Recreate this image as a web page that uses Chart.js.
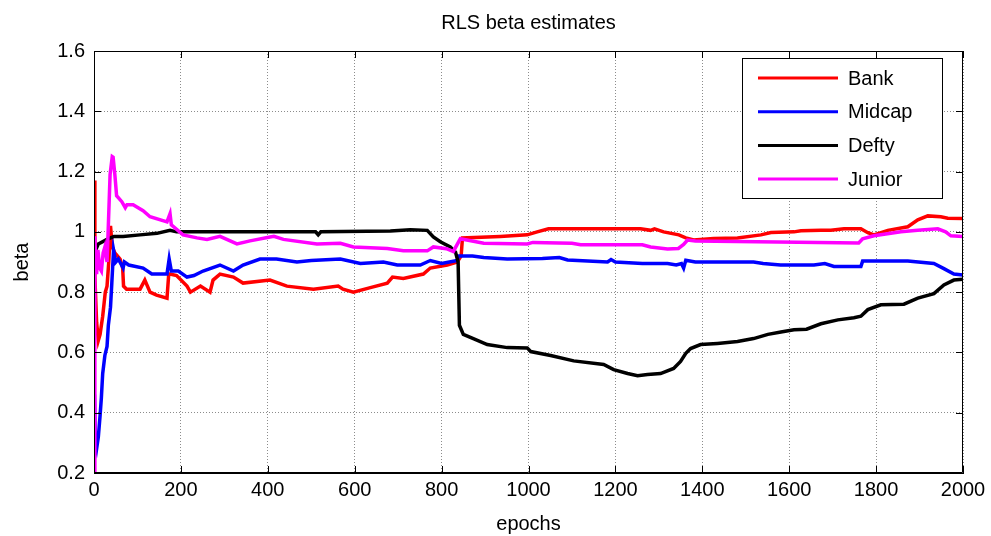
<!DOCTYPE html>
<html>
<head>
<meta charset="utf-8">
<script src="https://cdn.jsdelivr.net/npm/chart.js@4.4.0/dist/chart.umd.min.js"></script>
<style>
  body { margin: 0; background: #fff; }
  canvas { display: block; }
</style>
</head>
<body>
<canvas id="betaChart" width="991" height="536"></canvas>
<script>
const seriesNames = ['Bank', 'Midcap', 'Defty', 'Junior'];
const seriesColors = ['#ff0000', '#0000ff', '#000000', '#ff00ff'];
const xTicks = [0, 200, 400, 600, 800, 1000, 1200, 1400, 1600, 1800, 2000];
const yTicks = [0.2, 0.4, 0.6, 0.8, 1, 1.2, 1.4, 1.6];

// epochs / beta
const bankEpochs = [0, 2, 6, 10, 14, 20, 26, 30, 34, 38, 42, 48, 60, 66, 68, 75, 106, 117, 129, 144, 168, 172, 175, 190, 214, 222, 245, 267, 274, 290, 321, 343, 405, 444, 505, 562, 573, 597, 636, 675, 687, 712, 758, 774, 813, 836, 845, 848, 935, 997, 1020, 1046, 1258, 1281, 1290, 1311, 1346, 1362, 1380, 1426, 1481, 1535, 1558, 1611, 1627, 1673, 1696, 1726, 1765, 1781, 1795, 1827, 1873, 1896, 1919, 1949, 1965, 2000];
const bankBeta = [1.17, 0.85, 0.70, 0.64, 0.66, 0.72, 0.80, 0.82, 0.90, 1.02, 0.95, 0.93, 0.91, 0.88, 0.82, 0.81, 0.81, 0.84, 0.80, 0.79, 0.78, 0.86, 0.86, 0.855, 0.82, 0.80, 0.82, 0.80, 0.84, 0.86, 0.85, 0.83, 0.84, 0.82, 0.81, 0.82, 0.81, 0.80, 0.815, 0.83, 0.85, 0.845, 0.86, 0.88, 0.89, 0.90, 0.92, 0.98, 0.985, 0.99, 1.0, 1.01, 1.01, 1.005, 1.01, 1.0, 0.99, 0.98, 0.973, 0.978, 0.98, 0.99, 0.998, 1.0, 1.004, 1.005, 1.005, 1.01, 1.01, 0.997, 0.99, 1.005, 1.017, 1.04, 1.053, 1.05, 1.045, 1.044];

const midcapEpochs = [1, 3, 6, 10, 14, 17, 20, 25, 30, 33, 38, 41, 45, 50, 56, 67, 70, 80, 113, 133, 168, 173, 178, 194, 214, 230, 251, 290, 321, 343, 382, 420, 467, 500, 567, 613, 666, 698, 751, 774, 800, 836, 839, 871, 897, 951, 1032, 1071, 1090, 1182, 1190, 1200, 1262, 1320, 1340, 1352, 1357, 1362, 1384, 1518, 1540, 1580, 1657, 1682, 1703, 1765, 1769, 1873, 1933, 1956, 1979, 2000];
const midcapBeta = [0.46, 0.30, 0.28, 0.32, 0.39, 0.45, 0.53, 0.59, 0.62, 0.69, 0.75, 0.83, 0.94, 0.90, 0.91, 0.88, 0.90, 0.89, 0.88, 0.86, 0.86, 0.91, 0.87, 0.87, 0.85, 0.855, 0.87, 0.89, 0.87, 0.89, 0.91, 0.91, 0.90, 0.905, 0.91, 0.895, 0.90, 0.89, 0.89, 0.905, 0.895, 0.905, 0.92, 0.92, 0.915, 0.91, 0.912, 0.915, 0.907, 0.90, 0.908, 0.90, 0.895, 0.895, 0.89, 0.895, 0.88, 0.906, 0.90, 0.90, 0.895, 0.89, 0.89, 0.895, 0.885, 0.885, 0.903, 0.903, 0.895, 0.878, 0.86, 0.857];

const deftyEpochs = [1, 10, 30, 46, 67, 106, 145, 175, 190, 510, 516, 522, 682, 728, 767, 781, 797, 820, 832, 838, 841, 850, 873, 905, 951, 997, 1005, 1051, 1104, 1173, 1196, 1228, 1251, 1274, 1304, 1334, 1350, 1362, 1373, 1396, 1435, 1481, 1518, 1551, 1581, 1611, 1640, 1673, 1712, 1749, 1765, 1781, 1811, 1864, 1896, 1933, 1956, 1979, 2000];
const deftyBeta = [0.93, 0.96, 0.975, 0.985, 0.985, 0.99, 0.995, 1.005, 1.0, 1.0, 0.99, 1.0, 1.003, 1.007, 1.005, 0.983, 0.967, 0.95, 0.933, 0.90, 0.69, 0.66, 0.646, 0.626, 0.616, 0.615, 0.603, 0.59, 0.572, 0.56, 0.543, 0.53, 0.523, 0.527, 0.53, 0.547, 0.57, 0.597, 0.613, 0.626, 0.63, 0.636, 0.646, 0.66, 0.668, 0.675, 0.677, 0.695, 0.708, 0.715, 0.72, 0.742, 0.758, 0.76, 0.78, 0.795, 0.824, 0.84, 0.843];

const juniorEpochs = [0, 2, 4, 6, 9, 13, 17, 21, 25, 30, 33, 37, 42, 44, 48, 52, 64, 72, 76, 90, 113, 129, 168, 175, 178, 205, 237, 260, 290, 329, 359, 405, 414, 436, 513, 567, 597, 675, 712, 767, 781, 811, 827, 843, 897, 997, 1010, 1100, 1120, 1262, 1281, 1320, 1345, 1357, 1366, 1384, 1760, 1769, 1795, 1857, 1896, 1942, 1960, 1972, 2000];
const juniorBeta = [0.2, 0.985, 0.90, 0.86, 0.94, 0.88, 0.87, 0.93, 0.95, 0.90, 1.02, 1.19, 1.25, 1.248, 1.19, 1.12, 1.10, 1.08, 1.09, 1.09, 1.07, 1.05, 1.033, 1.06, 1.023, 0.99, 0.98, 0.975, 0.985, 0.96, 0.97, 0.983, 0.985, 0.975, 0.96, 0.962, 0.95, 0.945, 0.937, 0.937, 0.95, 0.944, 0.935, 0.977, 0.962, 0.96, 0.965, 0.962, 0.957, 0.957, 0.95, 0.943, 0.945, 0.958, 0.973, 0.97, 0.963, 0.977, 0.987, 1.0, 1.005, 1.01, 1.0, 0.987, 0.985];

function toPoints(xs, ys) {
  return xs.map((x, i) => ({ x: x, y: ys[i] }));
}

const allSeries = [
  toPoints(bankEpochs, bankBeta),
  toPoints(midcapEpochs, midcapBeta),
  toPoints(deftyEpochs, deftyBeta),
  toPoints(juniorEpochs, juniorBeta)
];

const FONT = 'Arial, "Liberation Sans", sans-serif';
const chartTitle = 'RLS beta estimates';

// matlab style box, inward ticks, title over the axes and framed legend
const matlabAxes = {
  id: 'matlabAxes',
  afterDraw(chart) {
    const c = chart.ctx;
    const a = chart.chartArea;
    const xs = chart.scales.x, ys = chart.scales.y;
    const len = 7;
    c.save();
    c.strokeStyle = '#000';
    c.lineWidth = 1;
    c.beginPath();
    c.rect(a.left + 0.5, a.top + 0.5, a.right - a.left - 1, a.bottom - a.top - 1);
    xTicks.forEach(v => {
      const px = Math.round(xs.getPixelForValue(v)) + 0.5;
      c.moveTo(px, a.bottom); c.lineTo(px, a.bottom - len);
      c.moveTo(px, a.top); c.lineTo(px, a.top + len);
    });
    yTicks.forEach(v => {
      const py = Math.round(ys.getPixelForValue(v)) + 0.5;
      c.moveTo(a.left, py); c.lineTo(a.left + len, py);
      c.moveTo(a.right, py); c.lineTo(a.right - len, py);
    });
    c.stroke();

    c.fillStyle = '#000';
    c.font = '20px ' + FONT;
    c.textAlign = 'center';
    c.textBaseline = 'middle';
    c.fillText(chartTitle, (a.left + a.right) / 2, 23);

    // legend
    const bx = a.right - 221, by = a.top + 7, bw = 200, bh = 140;
    c.fillStyle = '#fff';
    c.fillRect(bx, by, bw, bh);
    c.strokeRect(bx + 0.5, by + 0.5, bw, bh);
    c.textBaseline = 'middle';
    c.textAlign = 'left';
    chart.data.datasets.forEach((ds, i) => {
      const ly = by + 20 + i * 33.7;
      c.strokeStyle = ds.borderColor;
      c.lineWidth = 3;
      c.beginPath();
      c.moveTo(bx + 16, ly); c.lineTo(bx + 96, ly);
      c.stroke();
      c.fillStyle = '#000';
      c.fillText(ds.label, bx + 106, ly + 1);
    });
    c.restore();
  }
};

new Chart(document.getElementById('betaChart'), {
  type: 'line',
  data: {
    datasets: seriesNames.map((name, i) => ({
      label: name,
      data: allSeries[i],
      borderColor: seriesColors[i],
      backgroundColor: seriesColors[i],
      borderWidth: 3.5,
      pointRadius: 0,
      tension: 0,
      order: 3 - i
    }))
  },
  options: {
    responsive: false,
    animation: false,
    layout: { padding: { left: 0, right: 28, top: 51, bottom: 0 } },
    plugins: {
      legend: { display: false },
      tooltip: { enabled: false },
      title: { display: false }
    },
    scales: {
      x: {
        type: 'linear',
        min: 0,
        max: 2000,
        afterFit(s) { s.height = 63; },
        afterBuildTicks(s) { s.ticks = xTicks.map(v => ({ value: v })); },
        ticks: {
          color: '#000',
          font: { family: FONT, size: 20 },
          padding: 5,
          maxRotation: 0,
          callback: v => String(v)
        },
        grid: { color: 'rgba(0,0,0,0.45)', drawTicks: false, lineWidth: 1 },
        border: { display: true, color: '#000', dash: [1, 2] },
        title: { display: true, text: 'epochs', color: '#000', font: { family: FONT, size: 20 }, padding: { top: 2, bottom: 0 } }
      },
      y: {
        min: 0.2,
        max: 1.6,
        afterFit(s) { s.width = 94; },
        afterBuildTicks(s) { s.ticks = yTicks.map(v => ({ value: v })); },
        ticks: {
          color: '#000',
          font: { family: FONT, size: 20 },
          padding: 9,
          callback: v => String(Number(v.toFixed(1)))
        },
        grid: { color: 'rgba(0,0,0,0.45)', drawTicks: false, lineWidth: 1 },
        border: { display: true, color: '#000', dash: [1, 2] },
        title: { display: true, text: 'beta', color: '#000', font: { family: FONT, size: 20 }, padding: { top: 10, bottom: 0 } }
      }
    }
  },
  plugins: [matlabAxes]
});
</script>
</body>
</html>
